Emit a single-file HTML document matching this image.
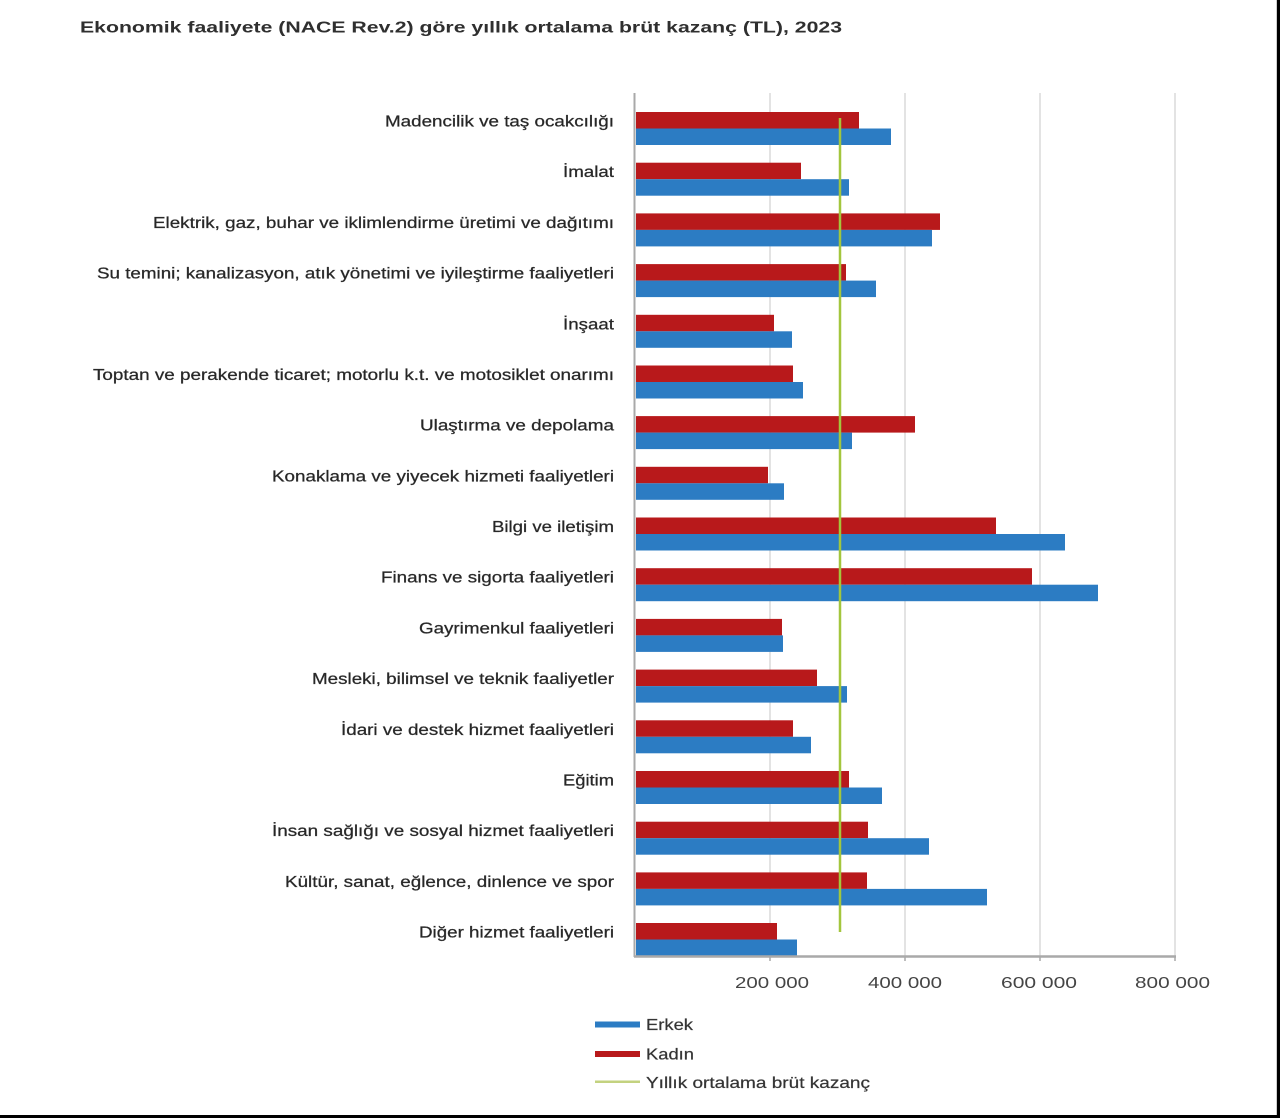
<!DOCTYPE html>
<html>
<head>
<meta charset="utf-8">
<style>
  html, body { margin: 0; padding: 0; background: #ffffff; }
  body { width: 1280px; height: 1118px; overflow: hidden; }
  svg { display: block; }
  .lbl { font-family: "Liberation Sans", "DejaVu Sans", sans-serif; font-size: 15.5px; fill: #262626; stroke: #3a3a3a; stroke-width: 0.3px; }
  .tick { font-family: "Liberation Sans", "DejaVu Sans", sans-serif; font-size: 16px; fill: #454545; }
  .title { font-family: "Liberation Sans", "DejaVu Sans", sans-serif; font-size: 16px; font-weight: bold; fill: #2f2f2f; }
  .leg { font-family: "Liberation Sans", "DejaVu Sans", sans-serif; font-size: 16px; fill: #333333; stroke: #444; stroke-width: 0.25px; }
</style>
</head>
<body>
<svg width="1280" height="1118" viewBox="0 0 1280 1118" xmlns="http://www.w3.org/2000/svg">
  <rect x="0" y="0" width="1280" height="1118" fill="#ffffff"/>

  <!-- Title -->
  <text class="title" x="80" y="32.5" textLength="762" lengthAdjust="spacingAndGlyphs">Ekonomik faaliyete (NACE Rev.2) göre yıllık ortalama brüt kazanç (TL), 2023</text>

  <!-- Gridlines -->
  <g stroke="#e3e3e3" stroke-width="2">
    <line x1="770" y1="93" x2="770" y2="956"/>
    <line x1="905" y1="93" x2="905" y2="956"/>
    <line x1="1040" y1="93" x2="1040" y2="956"/>
    <line x1="1175" y1="93" x2="1175" y2="956"/>
  </g>

  <!-- Bars: red = Kadın (top), blue = Erkek (bottom) -->
  <g fill="#b8191b">
    <rect x="636" y="112" width="223" height="16.5"/>
    <rect x="636" y="162.7" width="165" height="16.5"/>
    <rect x="636" y="213.4" width="304" height="16.5"/>
    <rect x="636" y="264.1" width="210" height="16.5"/>
    <rect x="636" y="314.8" width="138" height="16.5"/>
    <rect x="636" y="365.5" width="157" height="16.5"/>
    <rect x="636" y="416.1" width="279" height="16.5"/>
    <rect x="636" y="466.8" width="132" height="16.5"/>
    <rect x="636" y="517.5" width="360" height="16.5"/>
    <rect x="636" y="568.2" width="396" height="16.5"/>
    <rect x="636" y="618.9" width="146" height="16.5"/>
    <rect x="636" y="669.6" width="181" height="16.5"/>
    <rect x="636" y="720.3" width="157" height="16.5"/>
    <rect x="636" y="771" width="213" height="16.5"/>
    <rect x="636" y="821.7" width="232" height="16.5"/>
    <rect x="636" y="872.4" width="231" height="16.5"/>
    <rect x="636" y="923" width="141" height="16.5"/>
  </g>
  <g fill="#2c7cc3">
    <rect x="636" y="128.5" width="255" height="16.5"/>
    <rect x="636" y="179.2" width="213" height="16.5"/>
    <rect x="636" y="229.9" width="296" height="16.5"/>
    <rect x="636" y="280.6" width="240" height="16.5"/>
    <rect x="636" y="331.3" width="156" height="16.5"/>
    <rect x="636" y="382" width="167" height="16.5"/>
    <rect x="636" y="432.6" width="216" height="16.5"/>
    <rect x="636" y="483.3" width="148" height="16.5"/>
    <rect x="636" y="534" width="429" height="16.5"/>
    <rect x="636" y="584.7" width="462" height="16.5"/>
    <rect x="636" y="635.4" width="147" height="16.5"/>
    <rect x="636" y="686.1" width="211" height="16.5"/>
    <rect x="636" y="736.8" width="175" height="16.5"/>
    <rect x="636" y="787.5" width="246" height="16.5"/>
    <rect x="636" y="838.2" width="293" height="16.5"/>
    <rect x="636" y="888.9" width="351" height="16.5"/>
    <rect x="636" y="939.5" width="161" height="16.5"/>
  </g>

  <!-- Average line -->
  <line x1="840" y1="118" x2="840" y2="932" stroke="#a3c63d" stroke-width="2.5"/>

  <!-- Axes -->
  <line x1="634.5" y1="93" x2="634.5" y2="957" stroke="#a9a9a9" stroke-width="2"/>
  <line x1="634" y1="956.5" x2="1176" y2="956.5" stroke="#a9a9a9" stroke-width="2.5"/>
  <g stroke="#a9a9a9" stroke-width="1.5">
    <line x1="770" y1="956" x2="770" y2="961"/>
    <line x1="905" y1="956" x2="905" y2="961"/>
    <line x1="1040" y1="956" x2="1040" y2="961"/>
    <line x1="1175" y1="956" x2="1175" y2="961"/>
  </g>

  <!-- Tick labels -->
  <text class="tick" x="735" y="988" textLength="74" lengthAdjust="spacingAndGlyphs">200 000</text>
  <text class="tick" x="868" y="988" textLength="74" lengthAdjust="spacingAndGlyphs">400 000</text>
  <text class="tick" x="1001" y="988" textLength="76" lengthAdjust="spacingAndGlyphs">600 000</text>
  <text class="tick" x="1135" y="988" textLength="75" lengthAdjust="spacingAndGlyphs">800 000</text>

  <!-- Category labels -->
  <text class="lbl" x="385" y="126.5" textLength="229" lengthAdjust="spacingAndGlyphs">Madencilik ve taş ocakcılığı</text>
  <text class="lbl" x="563" y="177.2" textLength="51" lengthAdjust="spacingAndGlyphs">İmalat</text>
  <text class="lbl" x="153" y="227.9" textLength="461" lengthAdjust="spacingAndGlyphs">Elektrik, gaz, buhar ve iklimlendirme üretimi ve dağıtımı</text>
  <text class="lbl" x="97" y="278.6" textLength="517" lengthAdjust="spacingAndGlyphs">Su temini; kanalizasyon, atık yönetimi ve iyileştirme faaliyetleri</text>
  <text class="lbl" x="563" y="329.3" textLength="51" lengthAdjust="spacingAndGlyphs">İnşaat</text>
  <text class="lbl" x="93" y="380" textLength="521" lengthAdjust="spacingAndGlyphs">Toptan ve perakende ticaret; motorlu k.t. ve motosiklet onarımı</text>
  <text class="lbl" x="420" y="430.6" textLength="194" lengthAdjust="spacingAndGlyphs">Ulaştırma ve depolama</text>
  <text class="lbl" x="272" y="481.3" textLength="342" lengthAdjust="spacingAndGlyphs">Konaklama ve yiyecek hizmeti faaliyetleri</text>
  <text class="lbl" x="492" y="532" textLength="122" lengthAdjust="spacingAndGlyphs">Bilgi ve iletişim</text>
  <text class="lbl" x="381" y="582.7" textLength="233" lengthAdjust="spacingAndGlyphs">Finans ve sigorta faaliyetleri</text>
  <text class="lbl" x="419" y="633.4" textLength="195" lengthAdjust="spacingAndGlyphs">Gayrimenkul faaliyetleri</text>
  <text class="lbl" x="312" y="684.1" textLength="302" lengthAdjust="spacingAndGlyphs">Mesleki, bilimsel ve teknik faaliyetler</text>
  <text class="lbl" x="341" y="734.8" textLength="273" lengthAdjust="spacingAndGlyphs">İdari ve destek hizmet faaliyetleri</text>
  <text class="lbl" x="563" y="785.5" textLength="51" lengthAdjust="spacingAndGlyphs">Eğitim</text>
  <text class="lbl" x="272" y="836.2" textLength="342" lengthAdjust="spacingAndGlyphs">İnsan sağlığı ve sosyal hizmet faaliyetleri</text>
  <text class="lbl" x="285" y="886.9" textLength="329" lengthAdjust="spacingAndGlyphs">Kültür, sanat, eğlence, dinlence ve spor</text>
  <text class="lbl" x="419" y="937.5" textLength="195" lengthAdjust="spacingAndGlyphs">Diğer hizmet faaliyetleri</text>

  <!-- Legend -->
  <rect x="595" y="1021.5" width="45" height="6" fill="#2c7cc3"/>
  <text class="leg" x="646" y="1030" textLength="47" lengthAdjust="spacingAndGlyphs">Erkek</text>
  <rect x="595" y="1051" width="45" height="6" fill="#b8191b"/>
  <text class="leg" x="646" y="1059.5" textLength="48" lengthAdjust="spacingAndGlyphs">Kadın</text>
  <rect x="595" y="1080.5" width="45" height="2.5" fill="#c3d27f"/>
  <text class="leg" x="646" y="1088" textLength="224" lengthAdjust="spacingAndGlyphs">Yıllık ortalama brüt kazanç</text>

  <!-- Frame edges -->
  <rect x="1276" y="0" width="1" height="1118" fill="#cfcfcf"/>
  <rect x="1277" y="0" width="3" height="1118" fill="#000000"/>
  <rect x="0" y="1115" width="1280" height="3" fill="#000000"/>
</svg>
</body>
</html>
